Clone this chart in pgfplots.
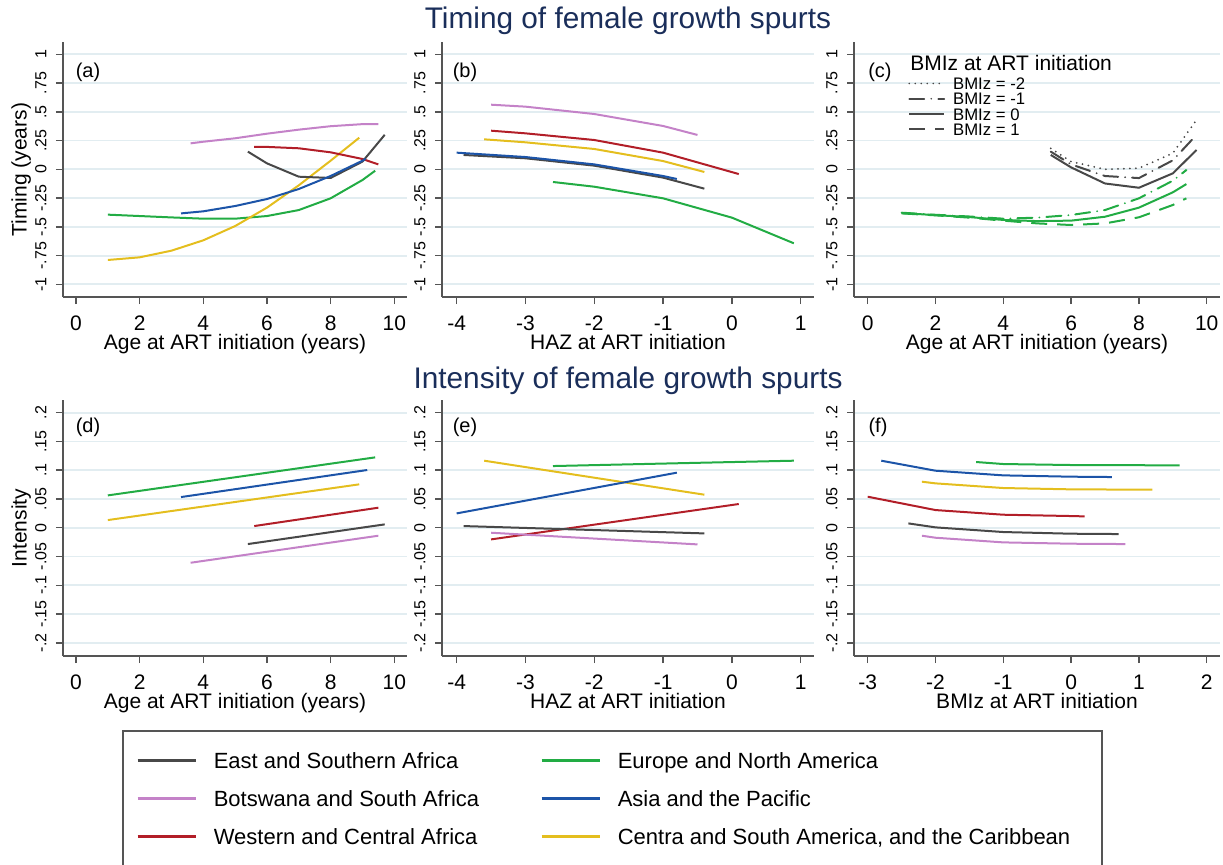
\documentclass[border=0pt]{standalone}
\usepackage{fontspec}
\setmainfont{Liberation Sans}
\usepackage{pgfplots}
\pgfplotsset{compat=1.18}
\newcommand\fs[1]{\fontsize{#1pt}{#1pt}\selectfont}
\definecolor{cGray}{RGB}{72,72,72}
\definecolor{cPink}{RGB}{196,130,200}
\definecolor{cRed}{RGB}{178,30,40}
\definecolor{cGreen}{RGB}{34,172,68}
\definecolor{cBlue}{RGB}{28,84,168}
\definecolor{cYellow}{RGB}{228,190,30}
\definecolor{cTitle}{RGB}{26,46,90}
\definecolor{cGrid}{RGB}{226,237,241}
\definecolor{cAxis}{RGB}{85,85,85}
\pgfplotsset{
  panel/.style={
    scale only axis, anchor=south west,
    axis lines*=left, axis line style={-, cAxis, line width=0.75pt},
    tick align=outside, major tick length=3.5pt,
    tick style={cAxis, line width=0.75pt},
    ymajorgrids, major grid style={cGrid, line width=0.9pt},
    xticklabel style={font=\fs{10.5}, anchor=north, inner sep=0pt, text height=7.5pt, text depth=0pt},
    yticklabel style={font=\fs{8}, rotate=90, anchor=south, inner sep=0pt, text height=5.8pt, text depth=0pt},
    yticklabel shift=4.6pt, xticklabel shift=5.75pt,
    label style={font=\fs{10.5}},
    xlabel style={at={(axis description cs:0.5,0)}, anchor=center, yshift=-23.5pt, text height=7.8pt, text depth=2.2pt},
    every axis plot/.append style={line width=1pt, no markers},
  },
  toprow/.style={height=127.5pt, ymin=-1.11, ymax=1.107,
    ytick={-1,-0.75,-0.5,-0.25,0,0.25,0.5,0.75,1},
    yticklabels={-1,-.75,-.5,-.25,0,.25,.5,.75,1}},
  botrow/.style={height=128pt, ymin=-0.223, ymax=0.222,
    ytick={-0.2,-0.15,-0.1,-0.05,0,0.05,0.1,0.15,0.2},
    yticklabels={-.2,-.15,-.1,-.05,0,.05,.1,.15,.2}},
  agex/.style={width=172pt, xmin=-0.409, xmax=10.40, xtick={0,2,4,6,8,10}, xticklabels={0,2,4,6,8,10}, xlabel={Age at ART initiation (years)}},
  agexc/.style={width=183pt, xmin=-0.404, xmax=10.392, xtick={0,2,4,6,8,10}, xticklabels={0,2,4,6,8,10}, xlabel={Age at ART initiation (years)}},
  hazx/.style={width=186pt, xmin=-4.213, xmax=1.193, xtick={-4,-3,-2,-1,0,1}, xticklabels={-4,-3,-2,-1,0,1}, xlabel={HAZ at ART initiation}},
  bmix/.style={width=183pt, xmin=-3.202, xmax=2.196, xtick={-3,-2,-1,0,1,2}, xticklabels={-3,-2,-1,0,1,2}, xlabel={BMIz at ART initiation}},
  ylab/.style={ylabel={#1}, ylabel style={at={(axis description cs:-0.122,0.5)}, anchor=center, text height=7.8pt, text depth=2.2pt}},
  dotS/.style={line cap=round, dash pattern=on 0pt off 3pt},
  dashdotS/.style={line cap=round, dash pattern=on 7.5pt off 3.5pt on 0pt off 3.5pt},
  dashS/.style={dash pattern=on 8pt off 5pt},
}
\begin{document}
\begin{tikzpicture}
\useasboundingbox (0,0) rectangle (611.5pt,-432pt);
\node[font=\fs{14.9}, text=cTitle, anchor=base] at (314pt,-14pt) {Timing of female growth spurts};
\node[font=\fs{14.9}, text=cTitle, anchor=base] at (314pt,-194pt) {Intensity of female growth spurts};

% (a)
\begin{axis}[panel, toprow, agex, ylab={Timing (years)}, at={(31.5pt,-148.5pt)}]
\addplot[cGreen] coordinates {(1,-0.394) (2,-0.406) (3,-0.418) (4,-0.429) (5,-0.429) (6,-0.406) (7,-0.354) (8,-0.252) (9,-0.093) (9.4,-0.012)};
\addplot[cYellow] coordinates {(1,-0.788) (2,-0.765) (3,-0.707) (4,-0.617) (5,-0.493) (6,-0.333) (7,-0.139) (8,0.075) (8.9,0.275)};
\addplot[cPink] coordinates {(3.6,0.226) (4,0.24) (5,0.27) (6,0.31) (7,0.345) (8,0.375) (9,0.393) (9.5,0.394)};
\addplot[cRed] coordinates {(5.6,0.195) (6,0.195) (7,0.183) (8,0.148) (9,0.09) (9.5,0.043)};
\addplot[cGray] coordinates {(5.4,0.154) (6,0.052) (7,-0.064) (8,-0.075) (9,0.067) (9.7,0.30)};
\addplot[cBlue] coordinates {(3.3,-0.383) (4,-0.365) (5,-0.319) (6,-0.258) (7,-0.171) (8,-0.058) (9,0.075) (9.1,0.092)};
\node[font=\fs{10}] at (rel axis cs:0.0727,0.882) {(a)};
\end{axis}

% (b)
\begin{axis}[panel, toprow, hazx, at={(221pt,-148.5pt)}]
\addplot[cPink] coordinates {(-3.5,0.562) (-3,0.545) (-2,0.481) (-1,0.377) (-0.5,0.299)};
\addplot[cRed] coordinates {(-3.5,0.336) (-3,0.313) (-2,0.255) (-1,0.145) (0.1,-0.041)};
\addplot[cYellow] coordinates {(-3.6,0.261) (-3,0.235) (-2,0.177) (-1,0.072) (-0.4,-0.023)};
\addplot[cGray] coordinates {(-3.9,0.125) (-3,0.096) (-2,0.032) (-1,-0.072) (-0.4,-0.168)};
\addplot[cBlue] coordinates {(-4,0.145) (-3,0.107) (-2,0.043) (-1,-0.058) (-0.8,-0.084)};
\addplot[cGreen] coordinates {(-2.6,-0.110) (-2,-0.151) (-1,-0.252) (0,-0.42) (0.9,-0.643)};
\node[font=\fs{10}] at (rel axis cs:0.0618,0.882) {(b)};
\end{axis}

% (c)
\begin{axis}[panel, toprow, agexc, at={(427pt,-148.5pt)},
  legend style={at={(0.1475,0.869)}, anchor=north west, draw=none, fill=none, font=\fs{8.35},
    row sep=0pt, column sep=4pt, inner sep=0pt, nodes={inner sep=0pt, text height=6.8pt, text depth=0.85pt}},
  legend cell align=left,
  legend image code/.code={\draw[#1, line width=0.9pt] (0pt,0pt) -- (17.5pt,0pt);}]
\addlegendimage{cGray, dotS}\addlegendentry{BMIz = -2}
\addlegendimage{cGray, dashdotS}\addlegendentry{BMIz = -1}
\addlegendimage{cGray}\addlegendentry{BMIz = 0}
\addlegendimage{cGray, dashS}\addlegendentry{BMIz = 1}
\addplot[cGray, dotS, forget plot] coordinates {(5.4,0.183) (6,0.067) (7,0.0) (8,0.01) (9,0.14) (9.7,0.43)};
\addplot[cGray, dashdotS, forget plot] coordinates {(5.4,0.154) (6,0.043) (7,-0.058) (8,-0.076) (9,0.078) (9.7,0.30)};
\addplot[cGray, forget plot] coordinates {(5.4,0.125) (6,0.017) (7,-0.123) (8,-0.16) (9,-0.035) (9.7,0.168)};
\addplot[cGreen, dashdotS, forget plot] coordinates {(1,-0.377) (2,-0.395) (3,-0.41) (4,-0.429) (5,-0.42) (6,-0.397) (7,-0.354) (8,-0.252) (9,-0.099) (9.4,-0.006)};
\addplot[cGreen, forget plot] coordinates {(1,-0.38) (2,-0.398) (3,-0.415) (4,-0.44) (5,-0.45) (6,-0.446) (7,-0.412) (8,-0.333) (9,-0.2) (9.4,-0.128)};
\addplot[cGreen, dashS, forget plot] coordinates {(1,-0.383) (2,-0.4) (3,-0.42) (4,-0.446) (5,-0.47) (6,-0.484) (7,-0.47) (8,-0.417) (9,-0.31) (9.4,-0.252)};
\node[font=\fs{10}] at (rel axis cs:0.071,0.882) {(c)};
\node[font=\fs{10.5}, anchor=west, inner sep=0pt] at (rel axis cs:0.153,0.9176) {BMIz at ART initiation};
\end{axis}

% (d)
\begin{axis}[panel, botrow, agex, ylab={Intensity}, at={(31.5pt,-328pt)}]
\addplot[cGreen] coordinates {(1,0.0562) (9.4,0.1223)};
\addplot[cBlue] coordinates {(3.3,0.0533) (9.15,0.1003)};
\addplot[cYellow] coordinates {(1,0.0133) (8.9,0.0754)};
\addplot[cRed] coordinates {(5.6,0.0029) (9.5,0.0348)};
\addplot[cGray] coordinates {(5.4,-0.0284) (9.7,0.0058)};
\addplot[cPink] coordinates {(3.6,-0.0609) (9.5,-0.0139)};
\node[font=\fs{10}] at (rel axis cs:0.0727,0.8945) {(d)};
\end{axis}

% (e)
\begin{axis}[panel, botrow, hazx, at={(221pt,-328pt)}]
\addplot[cYellow] coordinates {(-3.6,0.1165) (-0.4,0.0574)};
\addplot[cGreen] coordinates {(-2.6,0.1072) (-1,0.1115) (0.9,0.1165)};
\addplot[cBlue] coordinates {(-4,0.0249) (-0.8,0.0957)};
\addplot[cRed] coordinates {(-3.5,-0.0203) (0.1,0.0412)};
\addplot[cGray] coordinates {(-3.9,0.0029) (-0.4,-0.0099)};
\addplot[cPink] coordinates {(-3.5,-0.0087) (-0.5,-0.029)};
\node[font=\fs{10}] at (rel axis cs:0.0618,0.8945) {(e)};
\end{axis}

% (f)
\begin{axis}[panel, botrow, bmix, at={(427pt,-328pt)}]
\addplot[cBlue] coordinates {(-2.8,0.1165) (-2,0.0991) (-1,0.091) (0,0.0887) (0.6,0.0881)};
\addplot[cGreen] coordinates {(-1.4,0.1142) (-1,0.1107) (0,0.109) (1.6,0.1084)};
\addplot[cYellow] coordinates {(-2.2,0.08) (-2,0.0771) (-1,0.069) (0,0.0667) (1.2,0.0661)};
\addplot[cRed] coordinates {(-3,0.0539) (-2,0.0307) (-1,0.0226) (0,0.0203) (0.2,0.0197)};
\addplot[cGray] coordinates {(-2.4,0.0075) (-2,0.0006) (-1,-0.0075) (0,-0.0104) (0.7,-0.011)};
\addplot[cPink] coordinates {(-2.2,-0.0139) (-2,-0.0174) (-1,-0.0255) (0,-0.0278) (0.8,-0.0284)};
\node[font=\fs{10}] at (rel axis cs:0.0656,0.8945) {(f)};
\end{axis}

% main legend
\draw[cAxis, line width=0.75pt] (61.5pt,-365.5pt) rectangle (551pt,-445pt);
\begin{axis}[hide axis, scale only axis, width=10pt, height=10pt, xmin=0, xmax=1, ymin=0, ymax=1,
  at={(68pt,-374.75pt)}, anchor=north west,
  legend style={at={(0,1)}, anchor=north west, draw=none, fill=none, inner sep=0pt, font=\fs{11},
    row sep=8.5pt, column sep=8.5pt, nodes={inner sep=0pt, text height=9.25pt, text depth=1.25pt}},
  legend cell align=left,
  legend image code/.code={\draw[#1, line width=1.2pt] (0pt,0pt) -- (29pt,0pt);}]
\addlegendimage{cGray}\addlegendentry{East and Southern Africa}
\addlegendimage{cPink}\addlegendentry{Botswana and South Africa}
\addlegendimage{cRed}\addlegendentry{Western and Central Africa}
\end{axis}
\begin{axis}[hide axis, scale only axis, width=10pt, height=10pt, xmin=0, xmax=1, ymin=0, ymax=1,
  at={(270pt,-374.75pt)}, anchor=north west,
  legend style={at={(0,1)}, anchor=north west, draw=none, fill=none, inner sep=0pt, font=\fs{11},
    row sep=8.5pt, column sep=8.5pt, nodes={inner sep=0pt, text height=9.25pt, text depth=1.25pt}},
  legend cell align=left,
  legend image code/.code={\draw[#1, line width=1.2pt] (0pt,0pt) -- (29pt,0pt);}]
\addlegendimage{cGreen}\addlegendentry{Europe and North America}
\addlegendimage{cBlue}\addlegendentry{Asia and the Pacific}
\addlegendimage{cYellow}\addlegendentry{Centra and South America, and the Caribbean}
\end{axis}
\end{tikzpicture}
\end{document}
